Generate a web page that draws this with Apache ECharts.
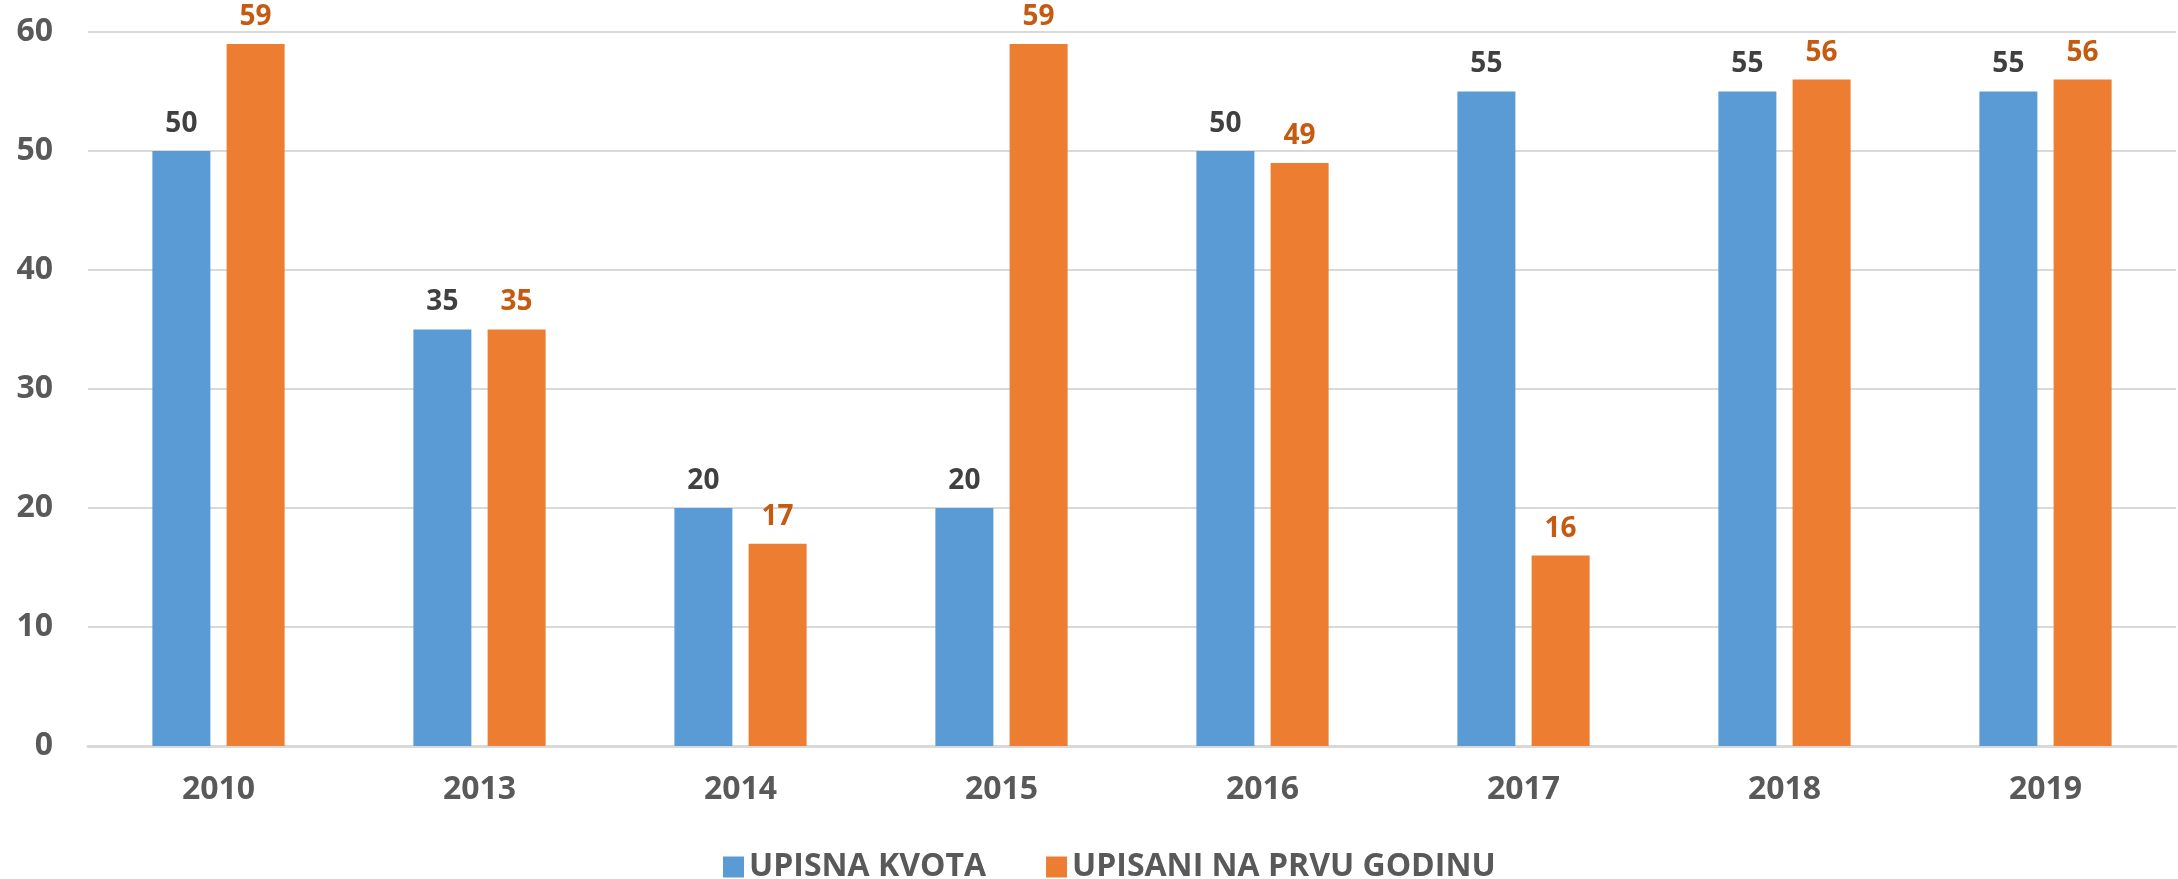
<!DOCTYPE html>
<html>
<head>
<meta charset="utf-8">
<script src="https://cdn.jsdelivr.net/npm/echarts@6/dist/echarts.min.js"></script>
<style>
  html, body { margin: 0; padding: 0; background: #fff; }
  #chart { width: 2178px; height: 879px; }
</style>
</head>
<body>
<div id="chart"></div>
<script>
// years on the x axis
var years = ['2010', '2013', '2014', '2015', '2016', '2017', '2018', '2019'];
// upisna kvota
var kvota = [50, 35, 20, 20, 50, 55, 55, 55];
// upisani na prvu godinu
var upisani = [59, 35, 17, 59, 49, 16, 56, 56];
var yTicks = [0, 10, 20, 30, 40, 50, 60];

var font = 'Open Sans';
var chart = echarts.init(document.getElementById('chart'));

var option = {
    animation: false,
    backgroundColor: '#fff',
    grid: { left: 88, right: 2, top: 32, bottom: 133 },
    legend: {
        left: 718,
        top: 846,
        itemWidth: 21,
        itemHeight: 21,
        itemGap: 60,
        icon: 'rect',
        textStyle: { color: '#595959', fontSize: 32, fontWeight: 'bold', fontFamily: font },
        data: ['UPISNA KVOTA', 'UPISANI NA PRVU GODINU']
    },
    xAxis: {
        type: 'category',
        data: years,
        axisLine: { lineStyle: { color: '#D9D9D9', width: 3 } },
        axisTick: { show: false },
        axisLabel: { color: '#595959', fontSize: 32, fontWeight: 'bold', fontFamily: font, margin: 28 }
    },
    yAxis: {
        type: 'value',
        min: yTicks[0],
        max: yTicks[yTicks.length - 1],
        interval: 10,
        axisLine: { show: false },
        axisTick: { show: false },
        splitLine: { lineStyle: { color: '#D9D9D9', width: 2 } },
        axisLabel: { color: '#595959', fontSize: 32, fontWeight: 'bold', fontFamily: font, margin: 35 }
    },
    series: [
        {
            name: 'UPISNA KVOTA',
            type: 'bar',
            data: kvota,
            barWidth: 58,
            barGap: '28%',
            itemStyle: { color: '#5B9BD5' },
            label: {
                show: true, position: 'top', distance: 13,
                color: '#404040', fontSize: 28, fontWeight: 'bold', fontFamily: font
            }
        },
        {
            name: 'UPISANI NA PRVU GODINU',
            type: 'bar',
            data: upisani,
            barWidth: 58,
            itemStyle: { color: '#ED7D31' },
            label: {
                show: true, position: 'top', distance: 13,
                color: '#C55A11', fontSize: 28, fontWeight: 'bold', fontFamily: font
            }
        }
    ]
};

chart.setOption(option);
</script>
</body>
</html>
